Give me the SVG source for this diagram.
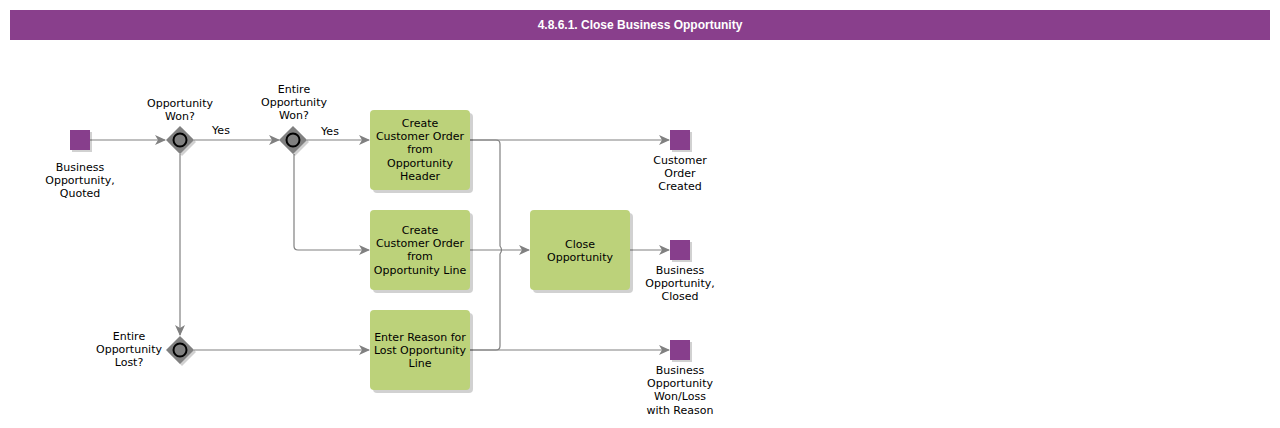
<svg xmlns="http://www.w3.org/2000/svg" width="1280" height="428" viewBox="0 0 1280 428">
<style>
text{font-family:"DejaVu Sans",Verdana,sans-serif;font-size:11px;fill:#000;text-anchor:middle}
.title{font-family:"Liberation Sans",Arial,sans-serif;font-weight:bold;font-size:12px;fill:#fff}
.task{fill:#bcd27a}
.sh{fill:#000;opacity:0.18}
.ev{fill:#873e8c}
.gw{fill:#808080}
.gc{fill:#808080;stroke:#000;stroke-width:2}
.c{fill:none;stroke:#808080;stroke-width:1.2}
</style>
<defs>
<marker id="ah" markerWidth="12" markerHeight="10" refX="10" refY="5" orient="auto" markerUnits="userSpaceOnUse">
<path d="M0,0 L11,5 L0,10 L3,5 z" fill="#808080"/>
</marker>
</defs>
<rect width="1280" height="428" fill="#fff"/>
<g id="header">
<rect x="10" y="10" width="1260" height="30" fill="#893f8c"/>
<text class="title" x="640" y="29">4.8.6.1. Close Business Opportunity</text>
</g>
<g id="connectors">
<path class="c" d="M90,140 H165" marker-end="url(#ah)"/>
<path class="c" d="M194,140 H279" marker-end="url(#ah)"/>
<text x="221" y="134">Yes</text>
<path class="c" d="M307,140 H369" marker-end="url(#ah)"/>
<text x="330" y="135">Yes</text>
<path class="c" d="M294,154 V246 Q294,250 298,250 H369" marker-end="url(#ah)"/>
<path class="c" d="M180,154 V335" marker-end="url(#ah)"/>
<path class="c" d="M194,350 H369" marker-end="url(#ah)"/>
<path class="c" d="M470,140 H669" marker-end="url(#ah)"/>
<path class="c" d="M470,140 H496 Q500,140 500,144 V246 Q503,250 500,254 V346 Q500,350 496,350 H470"/>
<path class="c" d="M470,250 H529" marker-end="url(#ah)"/>
<path class="c" d="M470,350 H669" marker-end="url(#ah)"/>
<path class="c" d="M630,250 H669" marker-end="url(#ah)"/>
</g>
<g id="start">
<rect class="sh" x="72" y="132" width="20" height="20"/>
<rect class="ev" x="70" y="130" width="20" height="20"/>
<text x="80" y="171">Business</text>
<text x="80" y="184">Opportunity,</text>
<text x="80" y="197">Quoted</text>
</g>
<g id="gw1">
<path class="sh" d="M182,128 L196,142 L182,156 L168,142 z"/>
<path class="gw" d="M180,126 L194,140 L180,154 L166,140 z"/>
<circle class="gc" cx="180" cy="140" r="6.5"/>
<text x="180" y="107">Opportunity</text>
<text x="180" y="120">Won?</text>
</g>
<g id="gw2">
<path class="sh" d="M295,128 L309,142 L295,156 L281,142 z"/>
<path class="gw" d="M293,126 L307,140 L293,154 L279,140 z"/>
<circle class="gc" cx="293" cy="140" r="6.5"/>
<text x="294" y="93">Entire</text>
<text x="294" y="106">Opportunity</text>
<text x="294" y="119">Won?</text>
</g>
<g id="gw3">
<path class="sh" d="M182,338 L196,352 L182,366 L168,352 z"/>
<path class="gw" d="M180,336 L194,350 L180,364 L166,350 z"/>
<circle class="gc" cx="180" cy="350" r="6.5"/>
<text x="129" y="340">Entire</text>
<text x="129" y="353">Opportunity</text>
<text x="129" y="366">Lost?</text>
</g>
<g id="task1">
<rect class="sh" x="373" y="113" width="100" height="80" rx="4"/>
<rect class="task" x="370" y="110" width="100" height="80" rx="4"/>
<text x="420" y="127">Create</text>
<text x="420" y="140">Customer Order</text>
<text x="420" y="153">from</text>
<text x="420" y="167">Opportunity</text>
<text x="420" y="180">Header</text>
</g>
<g id="task2">
<rect class="sh" x="373" y="213" width="100" height="80" rx="4"/>
<rect class="task" x="370" y="210" width="100" height="80" rx="4"/>
<text x="420" y="234">Create</text>
<text x="420" y="247">Customer Order</text>
<text x="420" y="260">from</text>
<text x="420" y="274">Opportunity Line</text>
</g>
<g id="task3">
<rect class="sh" x="373" y="313" width="100" height="80" rx="4"/>
<rect class="task" x="370" y="310" width="100" height="80" rx="4"/>
<text x="420" y="341">Enter Reason for</text>
<text x="420" y="354">Lost Opportunity</text>
<text x="420" y="367">Line</text>
</g>
<g id="close">
<rect class="sh" x="533" y="213" width="100" height="80" rx="4"/>
<rect class="task" x="530" y="210" width="100" height="80" rx="4"/>
<text x="580" y="248">Close</text>
<text x="580" y="261">Opportunity</text>
</g>
<g id="end1">
<rect class="sh" x="672" y="132" width="20" height="20"/>
<rect class="ev" x="670" y="130" width="20" height="20"/>
<text x="680" y="164">Customer</text>
<text x="680" y="177">Order</text>
<text x="680" y="190">Created</text>
</g>
<g id="end2">
<rect class="sh" x="672" y="242" width="20" height="20"/>
<rect class="ev" x="670" y="240" width="20" height="20"/>
<text x="680" y="274">Business</text>
<text x="680" y="287">Opportunity,</text>
<text x="680" y="300">Closed</text>
</g>
<g id="end3">
<rect class="sh" x="672" y="342" width="20" height="20"/>
<rect class="ev" x="670" y="340" width="20" height="20"/>
<text x="680" y="374">Business</text>
<text x="680" y="387">Opportunity</text>
<text x="680" y="400">Won/Loss</text>
<text x="680" y="414">with Reason</text>
</g>
</svg>
